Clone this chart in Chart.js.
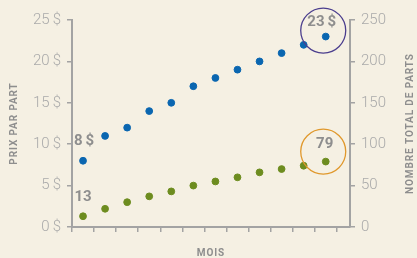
<!DOCTYPE html>
<html>
<head>
<meta charset="utf-8">
<script src="https://cdn.jsdelivr.net/npm/chart.js@4"></script>
<style>
  html, body { margin: 0; padding: 0; background: #f5f0e3; }
  #wrap { width: 417px; height: 258px; }
</style>
</head>
<body>
<div id="wrap"><canvas id="parts"></canvas></div>
<script>
// 12 mois
const mois = [1,2,3,4,5,6,7,8,9,10,11,12];
const prixParPart = [8,11,12,14,15,17,18,19,20,21,22,23];
const nombreParts = [13,22,30,37,43,50,55,60,66,70,74,79];
const ticksPrix = [0,5,10,15,20,25];
const ticksParts = [0,50,100,150,200,250];

const gris = "#a3a3a3";
const fontTicks = { family: "Roboto", size: 15, weight: "300" };

// étiquettes, cercles et titres des axes
const notes = {
  id: "notes",
  afterDatasetsDraw(chart) {
    const ctx = chart.ctx, x = chart.scales.x, yl = chart.scales.y, yr = chart.scales.y2;
    const n = mois.length - 1;
    ctx.save();
    // cercles
    ctx.lineWidth = 1.3;
    ctx.strokeStyle = "#4b3e8e";
    ctx.beginPath();
    ctx.arc(x.getPixelForValue(n + 0.5) - 2.5, yl.getPixelForValue(prixParPart[n]) - 6, 22.5, 0, Math.PI * 2);
    ctx.stroke();
    ctx.strokeStyle = "#e0982c";
    ctx.beginPath();
    ctx.arc(x.getPixelForValue(n + 0.5) - 2.5, yr.getPixelForValue(nombreParts[n]) - 10, 22.5, 0, Math.PI * 2);
    ctx.stroke();
    // valeurs
    ctx.fillStyle = "#8e8e8e";
    ctx.font = "bold 15px Roboto";
    ctx.textAlign = "center";
    ctx.textBaseline = "middle";
    ctx.fillText(prixParPart[0] + "\u2009$", x.getPixelForValue(0.5) + 1, yl.getPixelForValue(prixParPart[0]) - 20);
    ctx.fillText(String(nombreParts[0]), x.getPixelForValue(0.5), yr.getPixelForValue(nombreParts[0]) - 19);
    ctx.fillText(prixParPart[n] + "\u2009$", x.getPixelForValue(n + 0.5) - 4, yl.getPixelForValue(prixParPart[n]) - 14);
    ctx.fillText(String(nombreParts[n]), x.getPixelForValue(n + 0.5) - 1, yr.getPixelForValue(nombreParts[n]) - 17);
    // titres
    ctx.fillStyle = "#8e8e8e";
    ctx.font = "bold 10px Roboto";
    ctx.letterSpacing = "0.9px";
    const cy = (chart.chartArea.top + chart.chartArea.bottom) / 2;
    ctx.save();
    ctx.translate(14, cy);
    ctx.rotate(-Math.PI / 2);
    ctx.fillText("PRIX PAR PART", 0, 0);
    ctx.restore();
    ctx.save();
    ctx.translate(410, cy);
    ctx.rotate(-Math.PI / 2);
    ctx.fillText("NOMBRE TOTAL DE PARTS", 0, 0);
    ctx.restore();
    ctx.fillText("MOIS", (chart.chartArea.left + chart.chartArea.right) / 2, 253);
    ctx.restore();
  }
};

new Chart(document.getElementById("parts"), {
  type: "scatter",
  data: {
    datasets: [{
      label: "Prix par part",
      data: mois.map((m, i) => ({ x: i + 0.5, y: prixParPart[i] })),
      yAxisID: "y",
      backgroundColor: "#0a66b0",
      borderColor: "#0a66b0",
      pointRadius: 3.4
    }, {
      label: "Nombre total de parts",
      data: mois.map((m, i) => ({ x: i + 0.5, y: nombreParts[i] })),
      yAxisID: "y2",
      backgroundColor: "#6d8c1f",
      borderColor: "#6d8c1f",
      pointRadius: 3.4
    }]
  },
  options: {
    responsive: true,
    maintainAspectRatio: false,
    animation: false,
    layout: { padding: { top: 20, left: 0, right: 0, bottom: 0 } },
    plugins: { legend: { display: false }, tooltip: { enabled: false } },
    scales: {
      x: {
        type: "linear",
        min: 0,
        max: 12.6,
        afterBuildTicks: s => { s.ticks = mois.map((m, i) => ({ value: i })).concat([{ value: 12 }]); },
        afterFit: s => { s.height = 31; },
        ticks: { display: false },
        border: { color: gris, width: 2 },
        grid: { drawOnChartArea: false, tickLength: 5, color: gris, lineWidth: 1.5 }
      },
      y: {
        position: "left",
        min: 0,
        max: 25,
        afterBuildTicks: s => { s.ticks = ticksPrix.map(v => ({ value: v })); },
        afterFit: s => { s.width = 72; },
        ticks: { color: "#aaaaaa", font: fontTicks, padding: 6, callback: v => v + "\u2009$" },
        border: { color: gris, width: 2 },
        grid: { drawOnChartArea: false, tickLength: 5, color: gris, lineWidth: 1.5 }
      },
      y2: {
        position: "right",
        min: 0,
        max: 250,
        afterBuildTicks: s => { s.ticks = ticksParts.map(v => ({ value: v })); },
        afterFit: s => { s.width = 67; },
        ticks: { color: "#aaaaaa", font: fontTicks, padding: 6 },
        border: { color: gris, width: 2 },
        grid: { drawOnChartArea: false, tickLength: 5, color: gris, lineWidth: 1.5 }
      }
    }
  },
  plugins: [notes]
});
</script>
</body>
</html>
